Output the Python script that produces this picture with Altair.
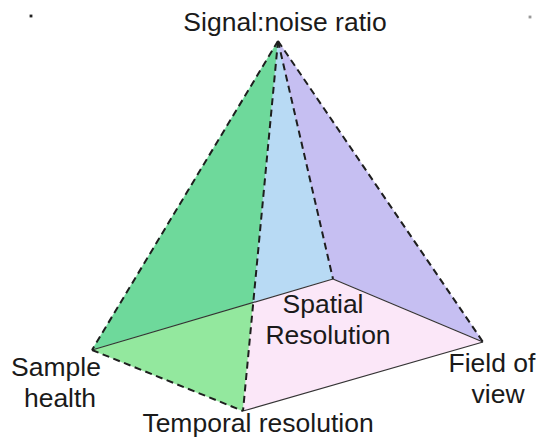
import altair as alt
import pandas as pd

# Pyramid vertices (page pixel coordinates)
vertex_names = ["A", "L", "B", "R", "K"]
vertex_x = [278, 92, 243, 483, 333]
vertex_y = [41, 350, 411, 342, 279]
V = {n: (x, y) for n, x, y in zip(vertex_names, vertex_x, vertex_y)}

# P: where front edge A-B crosses the hidden back edge L-K
def intersect(p1, p2, p3, p4):
    x1, y1 = p1; x2, y2 = p2; x3, y3 = p3; x4, y4 = p4
    d = (x1 - x2) * (y3 - y4) - (y1 - y2) * (x3 - x4)
    t = ((x1 - x3) * (y3 - y4) - (y1 - y3) * (x3 - x4)) / d
    return (x1 + t * (x2 - x1), y1 + t * (y2 - y1))

V["P"] = intersect(V["A"], V["B"], V["L"], V["K"])

face_names = ["dark_green", "light_green", "blue", "purple", "pink"]
face_vertices = [["A", "L", "P"], ["L", "B", "P"], ["A", "P", "K"], ["A", "K", "R"], ["P", "B", "R", "K"]]
face_colors = ["#6ED99B", "#93E89E", "#B8DAF4", "#C6BFF2", "#FBE7F8"]

dashed_edges = [("A", "L"), ("A", "B"), ("A", "K"), ("A", "R"), ("L", "B")]
solid_edges = [("L", "K"), ("B", "R"), ("K", "R")]

label_texts = ["Signal:noise ratio", "Sample", "health", "Temporal resolution",
               "Spatial", "Resolution", "Field of", "view"]
label_x = [285, 56, 60, 258, 323, 328, 492, 498]
label_y = [31, 376, 407, 432, 313, 344, 372, 403]

dot_x = [31, 530]
dot_y = [16, 17]
dot_colors = ["#222222", "#999999"]

W, H = 528, 433
xs = alt.Scale(domain=[8, 8 + W], nice=False, zero=False)
ys = alt.Scale(domain=[8, 8 + H], nice=False, zero=False, reverse=True)

layers = []
for name, verts, col in zip(face_names, face_vertices, face_colors):
    pts = verts + [verts[0]]
    df = pd.DataFrame({
        "x": [V[v][0] for v in pts],
        "y": [V[v][1] for v in pts],
        "o": list(range(len(pts))),
    })
    layers.append(
        alt.Chart(df).mark_line(fill=col, stroke=col, strokeWidth=0.5, interpolate="linear").encode(
            x=alt.X("x:Q", scale=xs, axis=None),
            y=alt.Y("y:Q", scale=ys, axis=None),
            order="o:Q",
        )
    )

def edges_df(edges):
    return pd.DataFrame({
        "x": [V[a][0] for a, b in edges], "y": [V[a][1] for a, b in edges],
        "x2": [V[b][0] for a, b in edges], "y2": [V[b][1] for a, b in edges],
    })

layers.append(
    alt.Chart(edges_df(solid_edges)).mark_rule(color="#333333", strokeWidth=1.2).encode(
        x=alt.X("x:Q", scale=xs, axis=None), y=alt.Y("y:Q", scale=ys, axis=None),
        x2="x2:Q", y2="y2:Q",
    )
)
layers.append(
    alt.Chart(edges_df(dashed_edges)).mark_rule(color="#1e1e1e", strokeWidth=2, strokeDash=[7, 4.5]).encode(
        x=alt.X("x:Q", scale=xs, axis=None), y=alt.Y("y:Q", scale=ys, axis=None),
        x2="x2:Q", y2="y2:Q",
    )
)

labels = pd.DataFrame({"t": label_texts, "x": label_x, "y": label_y})
layers.append(
    alt.Chart(labels).mark_text(font="Liberation Sans", fontSize=26.5, color="#1a1a1a",
                                align="center", baseline="alphabetic").encode(
        x=alt.X("x:Q", scale=xs, axis=None), y=alt.Y("y:Q", scale=ys, axis=None), text="t:N",
    )
)

dots = pd.DataFrame({"x": dot_x, "y": dot_y, "c": dot_colors})
layers.append(
    alt.Chart(dots).mark_square(size=8, opacity=1).encode(
        x=alt.X("x:Q", scale=xs, axis=None), y=alt.Y("y:Q", scale=ys, axis=None),
        color=alt.Color("c:N", scale=None),
    )
)

chart = alt.layer(*layers).properties(
    width=W, height=H, padding=0, autosize=alt.AutoSizeParams(type="none"),
    background="white",
).configure_view(stroke=None)

chart.save("out.html", embed_options={"renderer": "svg", "actions": False})
